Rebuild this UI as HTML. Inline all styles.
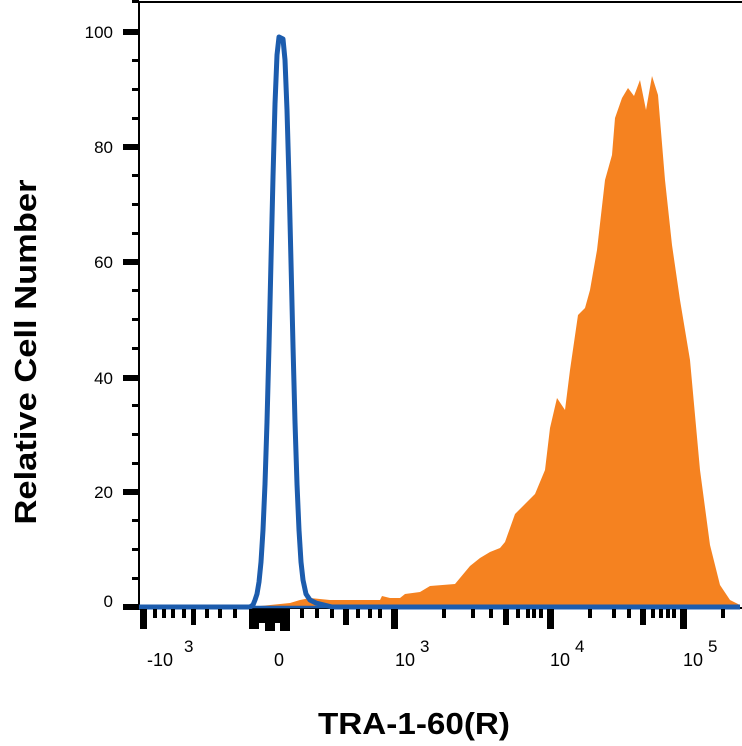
<!DOCTYPE html>
<html><head><meta charset="utf-8"><style>
body{margin:0;background:#fff;}
svg{display:block;font-family:"Liberation Sans",sans-serif;}
</style></head><body>
<svg width="742" height="746" viewBox="0 0 742 746" xmlns="http://www.w3.org/2000/svg">
<rect width="742" height="746" fill="#fff"/>
<polygon fill="#f58220" points="250,607 290,603 300,600 310,598 330,600 380,600 382,596 390,598 400,598 405,594 420,592 430,586 455,584 460,578 470,566 480,558 490,552 500,548 505,542 515,514 525,504 535,494 545,470 550,428 557,398 565,410 570,370 578,315 585,308 590,290 597,250 605,180 612,155 615,118 622,98 628,88 634,96 640,80 646,110 652,76 658,95 665,180 672,245 680,300 690,360 700,470 710,545 720,585 730,600 740,605 740,608 250,608"/>
<line x1="139" y1="2" x2="742" y2="2" stroke="#000" stroke-width="2"/>
<line x1="139" y1="2" x2="139" y2="610" stroke="#000" stroke-width="2"/>
<line x1="139" y1="608" x2="742" y2="608" stroke="#000" stroke-width="2"/>
<line x1="139" y1="607" x2="740" y2="607" stroke="#1c5cad" stroke-width="2.5"/>
<polyline fill="none" stroke="#1c5cad" stroke-width="5" stroke-linejoin="round" points="139,607 250,607 253,605 255,600 257,594 259,582 261,562 263,530 265,484 267,422 269,346 271,261 273,177 275,104 277,55 279,37 283,39 285,60 287,110 289,180 291,262 293,346 295,422 297,484 299,530 301,562 303,580 306,594 310,600 316,603 324,605 332,607 740,607"/>
<g fill="#000">
<rect x="123" y="29" width="16" height="6"/><rect x="123" y="144" width="16" height="6"/><rect x="123" y="259" width="16" height="6"/><rect x="123" y="375" width="16" height="6"/><rect x="123" y="489" width="16" height="6"/><rect x="123" y="604" width="16" height="6"/>
<rect x="132" y="0" width="7" height="3"/>
<rect x="132" y="59" width="7" height="3"/><rect x="132" y="88" width="7" height="3"/><rect x="132" y="117" width="7" height="3"/>
<rect x="132" y="174" width="7" height="3"/><rect x="132" y="203" width="7" height="3"/><rect x="132" y="232" width="7" height="3"/>
<rect x="132" y="289" width="7" height="3"/><rect x="132" y="318" width="7" height="3"/><rect x="132" y="347" width="7" height="3"/>
<rect x="132" y="404" width="7" height="3"/><rect x="132" y="433" width="7" height="3"/><rect x="132" y="462" width="7" height="3"/>
<rect x="132" y="519" width="7" height="3"/><rect x="132" y="548" width="7" height="3"/><rect x="132" y="577" width="7" height="3"/>
</g>
<g font-size="17" fill="#000" text-anchor="end">
<text x="113" y="38">100</text><text x="113" y="153">80</text><text x="113" y="268">60</text><text x="113" y="384">40</text><text x="113" y="498">20</text><text x="113" y="607">0</text>
</g>
<g fill="#000">
<rect x="140" y="609" width="7" height="20"/>
<rect x="153" y="609" width="4" height="9"/><rect x="162" y="609" width="4" height="9"/><rect x="171" y="609" width="4" height="9"/>
<rect x="182" y="609" width="4" height="9"/><rect x="191" y="609" width="5" height="16"/><rect x="205" y="609" width="4" height="9"/>
<rect x="218" y="609" width="4" height="9"/><rect x="233" y="609" width="4" height="9"/>
<rect x="249" y="609" width="10" height="20"/><rect x="259" y="609" width="8" height="14"/><rect x="265" y="609" width="10" height="22"/><rect x="275" y="609" width="6" height="14"/><rect x="280" y="609" width="10" height="22"/>
<rect x="300" y="609" width="4" height="9"/><rect x="315" y="609" width="4" height="9"/><rect x="330" y="609" width="4" height="9"/>
<rect x="343" y="609" width="6" height="16"/><rect x="356" y="609" width="4" height="9"/><rect x="368" y="609" width="4" height="9"/><rect x="378" y="609" width="4" height="9"/>
<rect x="391" y="609" width="7" height="20"/>
<rect x="442" y="609" width="4" height="9"/><rect x="471" y="609" width="4" height="9"/><rect x="489" y="609" width="4" height="9"/>
<rect x="503" y="609" width="6" height="16"/><rect x="516" y="609" width="4" height="9"/><rect x="526" y="609" width="4" height="9"/><rect x="532" y="609" width="4" height="9"/><rect x="539" y="609" width="4" height="9"/>
<rect x="547" y="609" width="7" height="20"/>
<rect x="588" y="609" width="4" height="9"/><rect x="612" y="609" width="4" height="9"/><rect x="627" y="609" width="4" height="9"/>
<rect x="640" y="609" width="6" height="16"/><rect x="651" y="609" width="4" height="9"/><rect x="659" y="609" width="4" height="9"/><rect x="666" y="609" width="4" height="9"/><rect x="672" y="609" width="4" height="9"/>
<rect x="680" y="609" width="7" height="20"/>
<rect x="721" y="609" width="4" height="9"/>
</g>
<g font-size="18" fill="#000">
<text x="147" y="666">-10</text><text x="184" y="652" font-size="17">3</text>
<text x="274" y="666">0</text>
<text x="395" y="666">10</text><text x="420" y="652" font-size="17">3</text>
<text x="550" y="666">10</text><text x="575" y="652" font-size="17">4</text>
<text x="683" y="666">10</text><text x="708" y="652" font-size="17">5</text>
</g>
<text x="318" y="734" font-size="31" font-weight="bold" textLength="192" lengthAdjust="spacingAndGlyphs">TRA-1-60(R)</text>
<text transform="translate(36,352) rotate(-90)" font-size="31" font-weight="bold" text-anchor="middle" textLength="345" lengthAdjust="spacingAndGlyphs">Relative Cell Number</text>
</svg>
</body></html>
